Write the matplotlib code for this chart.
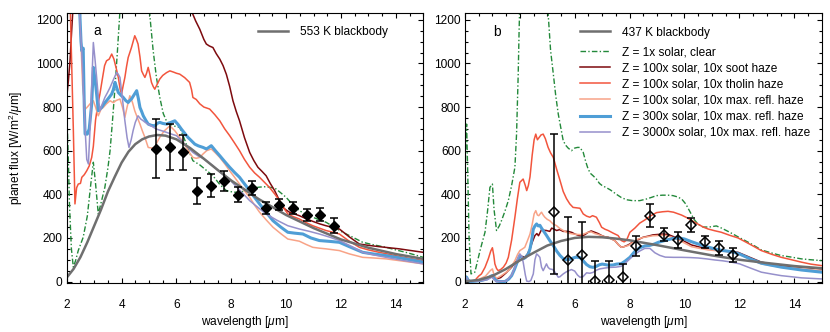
import matplotlib
matplotlib.use("Agg")
import matplotlib.pyplot as plt
from matplotlib.ticker import MultipleLocator

plt.rcParams['font.family'] = ['Liberation Sans', 'DejaVu Sans']
plt.rcParams['mathtext.fontset'] = 'custom'
plt.rcParams['mathtext.rm'] = 'Liberation Sans'
plt.rcParams['mathtext.it'] = 'Liberation Sans:italic'

# ---------------- observed points ----------------
wl_obs = [5.25, 5.75, 6.25, 6.75, 7.25, 7.75, 8.25, 8.75, 9.25, 9.75, 10.25, 10.75, 11.25, 11.75]
flux_a = [610, 618, 592, 417, 440, 460, 398, 430, 337, 353, 337, 304, 307, 256]
err_a = [135, 105, 80, 60, 53, 45, 35, 33, 27, 27, 27, 27, 30, 34]
flux_b = [318, 97, 123, 3, 6, 20, 162, 302, 214, 192, 260, 180, 154, 122]
err_b_lo = [285, 200, 150, 90, 88, 70, 46, 54, 30, 36, 31, 27, 32, 34]
err_b_hi = [360, 198, 150, 90, 88, 62, 46, 54, 30, 36, 31, 27, 32, 34]

# ---------------- panel a models ----------------
bb_a_wl = [2.0, 2.25, 2.5, 2.75, 3.0, 3.25, 3.5, 3.75, 4.0, 4.25, 4.5, 4.75, 5.0, 5.3, 5.6, 6.0, 6.5,
           7.0, 7.5, 8.0, 9.0, 10.0, 11.0, 12.0, 13.0, 14.0, 15.0]
bb_a = [18, 58, 112, 180, 255, 330, 412, 480, 545, 595, 630, 652, 665, 672, 669, 652, 612,
        563, 512, 463, 378, 305, 245, 193, 155, 126, 104]

green_a_wl = [2.0, 2.05, 2.1, 2.17, 2.24, 2.32, 2.42, 2.6, 2.75, 2.88, 2.97, 3.05, 3.15, 3.27, 3.39, 3.5,
              3.58, 3.67, 3.76, 3.85, 3.94, 4.05, 4.95, 5.03, 5.15, 5.27, 5.4, 5.52, 5.64, 5.76, 5.95,
              6.12, 6.24, 6.36, 6.48, 6.6, 6.85, 7.09, 7.33, 7.58, 7.82, 8.06, 8.3, 8.55, 8.79, 9.03,
              9.27, 9.5, 9.64, 9.82, 10.0, 10.24, 10.48, 10.73, 10.97, 11.21, 11.45, 11.75, 12.06,
              12.4, 12.79, 13.2, 13.64, 14.0, 14.36, 14.7, 15.0]
green_a = [783, 600, 350, 150, 66, 95, 142, 203, 300, 450, 547, 450, 310, 370, 432, 520,
           600, 740, 890, 1060, 1241, 1600, 1600, 1220, 1060, 936, 840, 770, 735, 722, 712,
           707, 670, 630, 590, 554, 535, 510, 485, 445, 417, 410, 409, 418, 429, 433,
           435, 430, 424, 405, 386, 352, 325, 308, 295, 283, 272, 250, 226,
           205, 180, 168, 157, 145, 134, 122, 111]

soot_a_wl = [2.0, 2.06, 2.12, 2.18, 2.25, 6.4, 6.55, 6.7, 6.85, 7.0, 7.09, 7.2, 7.33, 7.45, 7.58, 7.7,
             7.82, 7.94, 8.06, 8.18, 8.3, 8.48, 8.67, 8.82, 8.97, 9.12, 9.27, 9.42, 9.58, 9.73, 9.88,
             10.0, 10.12, 10.3, 10.48, 10.73, 10.97, 11.21, 11.45, 11.7, 11.94, 12.3, 12.67, 13.0,
             13.39, 13.75, 14.12, 14.5, 15.0]
soot_a = [844, 920, 1012, 1150, 1300, 1400, 1240, 1195, 1157, 1110, 1089, 1080, 1073, 1045, 1020, 990,
          950, 895, 829, 780, 737, 660, 592, 555, 524, 505, 485, 450, 417, 378, 340,
          328, 318, 310, 302, 288, 276, 265, 256, 248, 241, 205, 172, 166,
          160, 155, 150, 143, 134]

tholin_a_wl = [2.0, 2.12, 2.18, 2.24, 2.3, 2.36, 2.42, 2.5, 2.55, 2.64, 2.73, 2.82, 2.91, 2.97, 3.05,
               3.12, 3.21, 3.3, 3.38, 3.45, 3.55, 3.64, 3.72, 3.8, 3.88, 3.95, 4.0, 4.06, 4.12, 4.18,
               4.24, 4.3, 4.36, 4.42, 4.48, 4.54, 4.6, 4.67, 4.73, 4.79, 4.85, 4.91, 4.97, 5.03, 5.09,
               5.15, 5.21, 5.3, 5.39, 5.5, 5.64, 5.76, 5.9, 6.0, 6.12, 6.3, 6.48, 6.55, 6.6, 6.72,
               6.85, 7.0, 7.21, 7.4, 7.58, 7.76, 7.94, 8.12, 8.3, 8.48, 8.67, 8.85, 9.03, 9.21, 9.39,
               9.58, 9.76, 9.9, 10.06, 10.25, 10.48, 10.73, 10.97, 11.21, 11.45, 11.7, 11.94, 12.3,
               12.67, 13.0, 13.39, 13.75, 14.12, 14.5, 15.0]
tholin_a = [1500, 1300, 1000, 700, 356, 430, 447, 450, 478, 490, 508, 530, 569, 620, 740,
            800, 860, 930, 990, 1012, 1020, 1043, 1020, 980, 936, 880, 860, 900, 936, 985,
            1027, 1050, 1073, 1100, 1127, 1110, 1089, 1030, 966, 950, 936, 955, 982, 950, 913,
            895, 882, 905, 928, 945, 958, 966, 960, 955, 951, 935, 913, 880, 844, 835,
            815, 800, 791, 765, 737, 700, 669, 635, 600, 560, 524, 498, 478, 455, 432,
            402, 371, 340, 310, 298, 287, 270, 256, 245, 234, 226, 218, 185,
            157, 145, 134, 125, 115, 106, 96]

salmon_a_wl = [2.0, 2.4, 2.5, 2.58, 2.67, 2.75, 2.85, 2.97, 3.05, 3.15, 3.25, 3.33, 3.45, 3.58, 3.7,
               3.8, 3.94, 4.03, 4.12, 4.2, 4.3, 4.4, 4.48, 4.58, 4.67, 4.76, 4.85, 4.97, 5.1, 5.21,
               5.3, 5.39, 5.55, 5.76, 5.95, 6.12, 6.24, 6.36, 6.48, 6.6, 6.72, 6.85, 6.97, 7.1, 7.27,
               7.42, 7.58, 7.76, 7.94, 8.12, 8.3, 8.48, 8.67, 8.85, 9.03, 9.27, 9.52, 9.8, 10.06,
               10.48, 10.73, 10.97, 11.21, 11.45, 11.94, 12.3, 12.79, 13.2, 13.64, 14.3, 15.0]
salmon_a = [1500, 1400, 1150, 900, 790, 800, 815, 829, 800, 760, 790, 798, 815, 829, 820,
            830, 837, 800, 753, 800, 852, 820, 783, 750, 722, 690, 661, 615, 612, 615,
            640, 661, 690, 714, 690, 661, 640, 615, 590, 569, 565, 569, 585, 600, 608,
            590, 569, 540, 508, 478, 447, 416, 386, 350, 318, 283, 249, 220, 195,
            185, 170, 157, 153, 150, 142, 127, 111, 108, 104, 93, 81]

blue_a_wl = [2.0, 2.4, 2.47, 2.52, 2.55, 2.6, 2.64, 2.67, 2.75, 2.82, 2.91, 2.97, 3.03, 3.09, 3.15,
             3.2, 3.27, 3.36, 3.45, 3.55, 3.64, 3.7, 3.76, 3.82, 3.88, 3.97, 4.06, 4.15, 4.24, 4.3,
             4.36, 4.45, 4.55, 4.61, 4.67, 4.73, 4.79, 4.88, 4.97, 5.09, 5.21, 5.3, 5.39, 5.5, 5.64,
             5.8, 5.94, 6.06, 6.18, 6.3, 6.42, 6.55, 6.67, 6.8, 6.97, 7.09, 7.18, 7.27, 7.42, 7.58,
             7.76, 7.94, 8.12, 8.3, 8.48, 8.67, 8.85, 9.03, 9.27, 9.52, 9.8, 10.06, 10.3, 10.61,
             10.9, 11.21, 11.6, 11.94, 12.3, 12.79, 13.2, 13.64, 14.3, 15.0]
blue_a = [1500, 1400, 1250, 1100, 1058, 1070, 800, 676, 676, 700, 814, 982, 930, 860, 783,
          790, 798, 815, 829, 845, 860, 880, 913, 890, 867, 855, 844, 830, 821, 830,
          837, 855, 875, 840, 798, 780, 760, 740, 722, 716, 714, 725, 730, 725, 722,
          730, 737, 720, 699, 680, 661, 645, 630, 622, 615, 608, 615, 623, 600, 577,
          550, 524, 500, 478, 448, 417, 386, 356, 318, 279, 250, 226, 222, 218,
          200, 188, 184, 180, 160, 134, 126, 119, 105, 89]

lav_a_wl = [2.0, 2.4, 2.5, 2.55, 2.6, 2.67, 2.73, 2.79, 2.85, 2.91, 2.97, 3.03, 3.09, 3.15, 3.21,
            3.3, 3.39, 3.48, 3.58, 3.7, 3.82, 3.88, 3.94, 4.03, 4.12, 4.2, 4.27, 4.35, 4.42, 4.5,
            4.6, 4.7, 4.79, 4.88, 4.97, 5.1, 5.27, 5.45, 5.64, 5.82, 6.0, 6.15, 6.3, 6.45, 6.6,
            6.8, 6.97, 7.15, 7.33, 7.6, 7.94, 8.3, 8.67, 8.97, 9.27, 9.65, 10.06, 10.48, 10.85,
            11.21, 11.6, 11.94, 12.4, 12.79, 13.2, 13.64, 14.3, 15.0]
lav_a = [1500, 1400, 1150, 1050, 900, 700, 560, 539, 700, 900, 1096, 1020, 936, 850, 783,
         815, 844, 865, 890, 925, 959, 950, 936, 840, 737, 660, 615, 650, 692, 730,
         760, 745, 737, 728, 722, 712, 699, 692, 684, 676, 669, 650, 630, 610, 592,
         575, 565, 548, 531, 500, 467, 420, 371, 340, 310, 282, 256, 241, 230,
         218, 203, 188, 160, 134, 122, 111, 96, 81]

# ---------------- panel b models ----------------
bb_b_wl = [2.0, 2.5, 3.0, 3.5, 4.0, 4.5, 5.0, 5.5, 6.0, 6.5, 7.0, 7.5, 8.0, 9.0, 10.0, 11.0, 12.0,
           13.0, 14.0, 15.0]
bb_b = [1, 7, 26, 58, 97, 132, 165, 186, 200, 205, 203, 197, 189, 167, 143, 120, 100, 85, 71, 61]

green_b_wl = [2.0, 2.03, 2.06, 2.1, 2.15, 2.22, 2.3, 2.36, 2.45, 2.55, 2.64, 2.73, 2.82, 2.91, 3.0,
              3.06, 3.15, 3.25, 3.33, 3.45, 3.58, 3.7, 3.82, 3.88, 3.94, 3.97, 4.02, 4.95, 5.03,
              5.12, 5.22, 5.31, 5.4, 5.5, 5.58, 5.67, 5.76, 5.88, 6.0, 6.1, 6.19, 6.31, 6.4, 6.49,
              6.58, 6.67, 6.79, 6.9, 7.0, 7.16, 7.3, 7.52, 7.7, 7.89, 8.1, 8.37, 8.6, 8.8, 8.98,
              9.2, 9.4, 9.58, 9.75, 9.9, 10.05, 10.2, 10.35, 10.5, 10.68, 10.9, 11.16, 11.35,
              11.65, 11.95, 12.4, 12.8, 13.2, 13.53, 13.9, 14.26, 14.6, 15.0]
green_b = [450, 650, 722, 500, 200, 35, 40, 43, 90, 142, 185, 226, 320, 432, 447,
           330, 234, 255, 279, 320, 371, 440, 524, 676, 950, 1134, 1400, 1400, 1230,
           1060, 951, 850, 768, 700, 646, 625, 612, 600, 612, 615, 615, 592, 550, 515,
           495, 485, 470, 450, 440, 430, 420, 400, 385, 375, 371, 371, 378, 386, 394,
           396, 396, 394, 388, 378, 355, 320, 285, 262, 250, 250, 255, 245,
           226, 205, 175, 145, 130, 119, 112, 104, 100, 96]

tholin_b_wl = [2.0, 2.1, 2.22, 2.36, 2.5, 2.6, 2.73, 2.85, 2.94, 3.0, 3.05, 3.09, 3.15, 3.21, 3.3,
               3.4, 3.5, 3.58, 3.7, 3.82, 3.91, 4.0, 4.12, 4.2, 4.25, 4.31, 4.37, 4.45, 4.52, 4.58,
               4.64, 4.7, 4.77, 4.85, 4.93, 5.03, 5.12, 5.22, 5.34, 5.46, 5.58, 5.7, 5.82, 5.94,
               6.07, 6.19, 6.31, 6.43, 6.55, 6.65, 6.79, 6.9, 6.98, 7.1, 7.22, 7.4, 7.58, 7.7, 7.8,
               7.89, 8.01, 8.19, 8.37, 8.55, 8.75, 8.98, 9.2, 9.4, 9.6, 9.89, 10.1, 10.37, 10.68,
               10.86, 11.1, 11.34, 11.65, 11.95, 12.4, 12.8, 13.2, 13.53, 13.9, 14.26, 14.6, 15.0]
tholin_b = [12, 2, 0, 5, 25, 35, 65, 104, 140, 155, 120, 81, 60, 50, 55,
            66, 85, 111, 190, 295, 380, 455, 470, 440, 417, 440, 480, 580, 650, 676,
            650, 660, 672, 676, 655, 615, 590, 569, 515, 465, 413, 380, 356, 340,
            338, 336, 310, 300, 295, 302, 295, 270, 249, 240, 234, 222, 211, 188, 182,
            190, 226, 245, 268, 282, 300, 316, 320, 322, 318, 305, 292, 272, 250,
            241, 233, 226, 212, 200, 170, 142, 124, 111, 100, 89, 80, 73]

soot_b_wl = [2.0, 2.1, 2.25, 2.5, 2.75, 2.95, 3.0, 3.05, 3.15, 3.3, 3.5, 3.7, 3.85, 4.0, 4.1, 4.18,
             4.27, 4.37, 4.45, 4.55, 4.62, 4.68, 4.79, 4.88, 4.97, 5.09, 5.16, 5.25, 5.34, 5.45,
             5.58, 5.76, 5.9, 6.0, 6.13, 6.25, 6.37, 6.49, 6.6, 6.73, 6.85, 6.98, 7.1, 7.22, 7.46,
             7.6, 7.7, 7.8, 7.95, 8.1, 8.31, 8.49, 8.67, 8.85, 9.04, 9.22, 9.4, 9.6, 9.77, 9.95,
             10.25, 10.55, 10.86, 11.2, 11.47, 11.95, 12.4, 12.8, 13.2, 13.53, 14.26, 15.0]
soot_b = [20, 5, 2, 5, 12, 25, 30, 20, 12, 18, 40, 66, 90, 111, 115, 111,
          125, 150, 180, 211, 220, 210, 238, 235, 234, 230, 245, 240, 234, 238,
          230, 230, 225, 218, 212, 208, 215, 226, 232, 226, 220, 211, 205, 203, 188,
          168, 157, 160, 168, 180, 192, 203, 208, 214, 216, 218, 216, 206, 197, 188,
          168, 158, 152, 146, 142, 134, 110, 89, 80, 73, 66, 58]

salmon_b_wl = [2.0, 2.1, 2.25, 2.5, 2.75, 2.92, 3.0, 3.06, 3.15, 3.3, 3.45, 3.58, 3.7, 3.82, 3.92,
               4.0, 4.1, 4.18, 4.27, 4.37, 4.45, 4.52, 4.58, 4.64, 4.69, 4.75, 4.79, 4.85, 4.91,
               5.0, 5.09, 5.2, 5.34, 5.45, 5.58, 5.76, 5.94, 6.1, 6.25, 6.37, 6.49, 6.6, 6.73, 6.85,
               6.98, 7.1, 7.22, 7.46, 7.6, 7.7, 7.8, 7.95, 8.1, 8.31, 8.49, 8.67, 8.85, 9.04, 9.22,
               9.4, 9.6, 9.77, 9.95, 10.25, 10.55, 10.86, 11.2, 11.47, 11.95, 12.4, 12.8, 13.2,
               13.53, 14.26, 15.0]
salmon_b = [20, 5, 2, 10, 25, 50, 58, 30, 15, 25, 38, 50, 70, 96, 125,
            142, 150, 157, 185, 218, 262, 310, 325, 305, 302, 312, 318, 305, 295,
            285, 279, 265, 256, 244, 234, 222, 218, 216, 215, 220, 226, 228, 220, 216,
            210, 205, 202, 188, 168, 157, 160, 165, 178, 195, 202, 206, 210, 211, 212,
            210, 200, 191, 180, 160, 152, 145, 141, 139, 127, 102, 81, 72,
            66, 58, 50]

blue_b_wl = [2.0, 2.06, 2.12, 2.2, 2.4, 2.6, 2.8, 2.95, 3.0, 3.06, 3.15, 3.3, 3.46, 3.6, 3.7, 3.8,
             3.88, 3.95, 4.0, 4.06, 4.12, 4.2, 4.31, 4.37, 4.43, 4.49, 4.55, 4.61, 4.67, 4.73,
             4.79, 4.85, 4.97, 5.09, 5.22, 5.34, 5.46, 5.58, 5.7, 5.82, 5.94, 6.05, 6.19, 6.31,
             6.43, 6.55, 6.67, 6.79, 6.9, 7.0, 7.1, 7.22, 7.4, 7.52, 7.7, 7.85, 8.01, 8.19, 8.37,
             8.55, 8.74, 8.9, 9.05, 9.22, 9.4, 9.6, 9.8, 10.0, 10.25, 10.5, 10.8, 11.1, 11.35,
             11.59, 11.8, 12.01, 12.4, 12.8, 13.2, 13.53, 14.26, 15.0]
blue_b = [23, 20, 5, 0, 2, 5, 12, 25, 27, 15, 2, 0, 0, 12, 27, 55,
          81, 105, 119, 112, 104, 110, 127, 150, 188, 240, 255, 264, 255, 258,
          245, 234, 212, 188, 165, 140, 120, 105, 100, 102, 108, 112, 110, 95,
          78, 68, 65, 70, 77, 80, 78, 75, 76, 80, 82, 95, 111, 138, 155,
          163, 166, 172, 180, 186, 192, 198, 200, 195, 183, 172, 160, 150, 143,
          139, 134, 126, 104, 84, 74, 66, 53, 43]

lav_b_wl = [2.0, 2.06, 2.12, 2.2, 2.5, 2.8, 2.95, 3.0, 3.06, 3.15, 3.5, 3.7, 3.82, 3.92, 4.0, 4.06,
            4.12, 4.2, 4.25, 4.33, 4.4, 4.49, 4.55, 4.61, 4.67, 4.73, 4.79, 4.85, 4.91, 4.97, 5.03,
            5.09, 5.2, 5.28, 5.4, 5.46, 5.58, 5.7, 5.88, 6.0, 6.1, 6.19, 6.3, 6.43, 6.55, 6.67,
            6.79, 6.91, 7.1, 7.3, 7.5, 7.7, 7.85, 8.01, 8.19, 8.37, 8.55, 8.74, 8.92, 9.1, 9.3,
            9.6, 9.89, 10.2, 10.5, 10.8, 11.1, 11.4, 11.71, 12.01, 12.4, 12.8, 13.2, 13.53, 13.9,
            14.26, 15.0]
lav_b = [20, 18, 5, 0, 2, 8, 18, 20, 8, 0, 2, 30, 66, 105, 127, 115,
         90, 30, 2, 0, 5, 35, 100, 127, 120, 111, 66, 50, 65, 81, 65,
         58, 55, 43, 20, 22, 35, 45, 55, 48, 30, 20, 22, 40, 38, 42,
         52, 58, 62, 65, 66, 70, 85, 104, 125, 140, 152, 152, 132, 120, 112,
         111, 111, 110, 108, 104, 99, 95, 89, 81, 62, 43, 34, 27, 22,
         17, 12]

# ---------------- labels & styles ----------------
labels = ['Z = 1x solar, clear',
          'Z = 100x solar, 10x soot haze',
          'Z = 100x solar, 10x tholin haze',
          'Z = 100x solar, 10x max. refl. haze',
          'Z = 300x solar, 10x max. refl. haze',
          'Z = 3000x solar, 10x max. refl. haze']
bb_labels = ['553 K blackbody', '437 K blackbody']

c_green = '#23893a'
c_soot = '#7d0a0e'
c_tholin = '#f2553d'
c_salmon = '#f8a387'
c_blue = '#4f9ed6'
c_lav = '#9690cb'
c_gray = '#6f6f6f'

FS = 8.6

fig = plt.figure(figsize=(8.3, 3.32), dpi=100)
ax_a = fig.add_axes([0.0804, 0.1467, 0.4296, 0.8133])
ax_b = fig.add_axes([0.5602, 0.1467, 0.4298, 0.8133])


def draw(ax, data, bb_wl, bb, obs, err, open_marker):
    (gwl, g), (swl, s), (twl, t), (mwl, m), (bwl, b), (lwl, lv) = data
    hg, = ax.plot(gwl, g, color=c_green, lw=1.0, dashes=[4, 1.6, 1, 1.6], label=labels[0])
    hs, = ax.plot(swl, s, color=c_soot, lw=1.1, label=labels[1])
    ht, = ax.plot(twl, t, color=c_tholin, lw=1.1, label=labels[2])
    hm, = ax.plot(mwl, m, color=c_salmon, lw=1.1, label=labels[3])
    hb, = ax.plot(bwl, b, color=c_blue, lw=2.2, label=labels[4])
    hl, = ax.plot(lwl, lv, color=c_lav, lw=1.1, label=labels[5])
    hbb, = ax.plot(bb_wl, bb, color=c_gray, lw=1.8)
    if open_marker:
        ax.errorbar(wl_obs, obs, yerr=err, fmt='D', ms=5.2, mfc='none', mec='black', mew=1.1,
                    ecolor='black', elinewidth=1.1, capsize=3.2, capthick=1.1, zorder=5)
    else:
        ax.errorbar(wl_obs, obs, yerr=err, fmt='D', ms=4.8, mfc='black', mec='black',
                    ecolor='black', elinewidth=1.1, capsize=3.2, capthick=1.1, zorder=5)
    ax.set_xlim(2, 15)
    ax.set_ylim(-8, 1230)
    ax.xaxis.set_major_locator(MultipleLocator(2))
    ax.xaxis.set_minor_locator(MultipleLocator(0.5))
    ax.yaxis.set_major_locator(MultipleLocator(200))
    ax.yaxis.set_minor_locator(MultipleLocator(50))
    ax.tick_params(which='both', direction='in', top=True, right=True, labelsize=FS, width=0.8)
    ax.tick_params(which='major', length=3.8)
    ax.tick_params(which='minor', length=2.0)
    ax.tick_params(axis='x', pad=11.5)
    ax.tick_params(axis='y', pad=3)
    for sp in ax.spines.values():
        sp.set_linewidth(0.8)
    ax.set_xlabel(r'wavelength [$\mu$m]', fontsize=FS)
    ax.xaxis.set_label_coords(0.5, -0.113)
    return hbb, [hg, hs, ht, hm, hb, hl]


hbb_a, _ = draw(ax_a, [(green_a_wl, green_a), (soot_a_wl, soot_a), (tholin_a_wl, tholin_a),
                       (salmon_a_wl, salmon_a), (blue_a_wl, blue_a), (lav_a_wl, lav_a)],
                bb_a_wl, bb_a, flux_a, err_a, False)
hbb_b, hmods = draw(ax_b, [(green_b_wl, green_b), (soot_b_wl, soot_b), (tholin_b_wl, tholin_b),
                           (salmon_b_wl, salmon_b), (blue_b_wl, blue_b), (lav_b_wl, lav_b)],
                    bb_b_wl, bb_b, flux_b, [err_b_lo, err_b_hi], True)

ax_a.set_ylabel(r'planet flux [W/m$^2$/$\mu$m]', fontsize=FS)
ax_a.yaxis.set_label_coords(-0.118, 0.5)

leg_kw = dict(frameon=False, fontsize=FS, handlelength=2.5, handletextpad=1.0,
              borderpad=0, borderaxespad=0, labelspacing=0.34, loc='upper left')
ax_a.legend([hbb_a], [bb_labels[0]], bbox_to_anchor=(0.536, 0.954), **leg_kw)
l1 = ax_b.legend([hbb_b], [bb_labels[1]], bbox_to_anchor=(0.3224, 0.951), **leg_kw)
ax_b.add_artist(l1)
ax_b.legend(hmods, labels, bbox_to_anchor=(0.3224, 0.877), **leg_kw)

ax_a.text(0.085, 0.935, 'a', transform=ax_a.transAxes, fontsize=10, ha='center', va='center')
ax_b.text(0.09, 0.93, 'b', transform=ax_b.transAxes, fontsize=10, ha='center', va='center')

fig.savefig('out.png', dpi=100)
